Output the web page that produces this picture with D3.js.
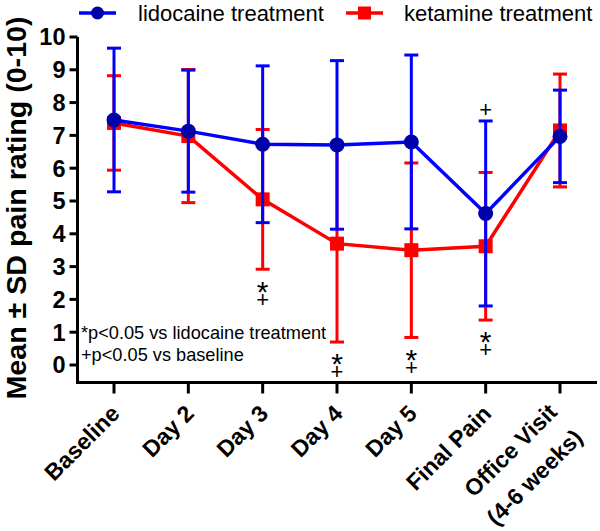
<!DOCTYPE html>
<html><head><meta charset="utf-8">
<script src="https://cdn.jsdelivr.net/npm/d3@7"></script>
<style>body{margin:0;background:#fff}svg{display:block}text{font-family:"Liberation Sans",Arial,sans-serif}</style>
</head><body><svg id="c" width="600" height="531"></svg>
<script>
const categories = ["Baseline","Day 2","Day 3","Day 4","Day 5","Final Pain","Office Visit|(4-6 weeks)"];
const lidoMean = [7.47, 7.13, 6.73, 6.71, 6.80, 4.62, 6.97];
const lidoSD   = [2.19, 1.86, 2.39, 2.57, 2.65, 2.82, 1.41];
const ketaMean = [7.38, 6.98, 5.05, 3.70, 3.50, 3.62, 7.15];
const ketaSD   = [1.44, 2.03, 2.13, 3.00, 2.66, 2.25, 1.72];
const yTicks = [0,1,2,3,4,5,6,7,8,9,10];
// significance marks: below ketamine bar ("*", "+") and above lidocaine bar ("+")
const belowMarks = [[], [], ["*","+"], ["*","+"], ["*","+"], ["*","+"], []];
const aboveMarks = [[], [], [], [], [], ["+"], []];
const footnotes = ["*p<0.05 vs lidocaine treatment", "+p<0.05 vs baseline"];
const seriesNames = ["lidocaine treatment", "ketamine treatment"];
const yTitle = "Mean \u00B1 SD pain rating (0-10)";

const BLUE = "#0000ff", BLUEDOT = "#0000a8", RED = "#ff0000";
const svg = d3.select("#c");
const x = d3.scalePoint().domain(categories).range([114, 560]);
const y = d3.scaleLinear().domain([0, 10]).range([365, 37]);
const axisY = 382.5, axisX = 77.5;

// axes
const ga = svg.append("g");
ga.append("path").attr("d", `M${axisX},${y(10)}V${axisY}H597`).attr("fill","none").attr("stroke","#000").attr("stroke-width",3);
ga.selectAll(".yt").data(yTicks).join("line").attr("x1",axisX-8).attr("x2",axisX).attr("y1",d=>y(d)).attr("y2",d=>y(d)).attr("stroke","#000").attr("stroke-width",3);
ga.selectAll(".ytl").data(yTicks).join("text").attr("x",axisX-12).attr("y",d=>y(d)).attr("dy","0.36em")
  .attr("text-anchor","end").attr("font-size",23.5).attr("font-weight","bold").text(d=>d);
ga.selectAll(".xt").data(categories).join("line").attr("x1",d=>x(d)).attr("x2",d=>x(d)).attr("y1",axisY).attr("y2",axisY+11).attr("stroke","#000").attr("stroke-width",3);
const xl = ga.selectAll(".xtl").data(categories).join("text")
  .attr("transform",d=>`translate(${x(d)+7},${415}) rotate(-45)`)
  .attr("text-anchor","end").attr("font-size",23).attr("font-weight","bold");
xl.each(function(d){
  const parts = d.split("|");
  const t = d3.select(this);
  if(parts.length===1){ t.append("tspan").attr("x",0).attr("dy",0).text(parts[0]); return; }
  parts.forEach((p,i)=>t.append("tspan").attr("x",-5).attr("dy", i===0 ? -7 : 36).text(p));
});
svg.append("text").attr("transform",`translate(26,208) rotate(-90)`).attr("text-anchor","middle")
  .attr("font-size",27).attr("font-weight","bold").attr("textLength",383).attr("lengthAdjust","spacingAndGlyphs").text(yTitle);

function drawSeries(mean, sd, color, dotColor, shape){
  const g = svg.append("g");
  const idx = d3.range(categories.length);
  g.selectAll("line.eb").data(idx).join("line").attr("x1",i=>x(categories[i])).attr("x2",i=>x(categories[i]))
    .attr("y1",i=>y(mean[i]+sd[i])).attr("y2",i=>y(mean[i]-sd[i])).attr("stroke",color).attr("stroke-width",3);
  [1,-1].forEach(s=>{
    g.selectAll("line.cap"+s).data(idx).join("line").attr("x1",i=>x(categories[i])-7).attr("x2",i=>x(categories[i])+7)
      .attr("y1",i=>y(mean[i]+s*sd[i])).attr("y2",i=>y(mean[i]+s*sd[i])).attr("stroke",color).attr("stroke-width",3);
  });
  g.append("path").datum(idx).attr("d", d3.line().x(i=>x(categories[i])).y(i=>y(mean[i])))
    .attr("fill","none").attr("stroke",color).attr("stroke-width",3.5);
  if(shape==="circle"){
    g.selectAll("circle").data(idx).join("circle").attr("cx",i=>x(categories[i])).attr("cy",i=>y(mean[i])).attr("r",7.5).attr("fill",dotColor);
  } else {
    g.selectAll("rect").data(idx).join("rect").attr("x",i=>x(categories[i])-7).attr("y",i=>y(mean[i])-7).attr("width",14).attr("height",14).attr("fill",dotColor);
  }
}
drawSeries(ketaMean, ketaSD, RED, RED, "square");
drawSeries(lidoMean, lidoSD, BLUE, BLUEDOT, "circle");

// significance marks (one text element per group, one tspan per symbol)
const gm = svg.append("g");
categories.forEach((c,i)=>{
  if(belowMarks[i].length){
    const top = y(ketaMean[i]-ketaSD[i]);
    const t = gm.append("text").attr("text-anchor","middle");
    belowMarks[i].forEach((m,k)=>{
      const center = top + 15 + k*14.5;
      const fs = m==="*" ? 30 : 22;
      const base = center + (m==="*" ? 0.58*fs : 0.36*fs);
      t.append("tspan").attr("x",x(c)).attr("y",base).attr("font-size",fs).text(m);
    });
  }
  aboveMarks[i].forEach((m)=>{
    const center = y(lidoMean[i]+lidoSD[i]) - 12;
    gm.append("text").attr("x",x(c)).attr("y",center+0.36*22).attr("font-size",22).attr("text-anchor","middle").text(m);
  });
});
svg.append("g").selectAll("text").data(footnotes).join("text").attr("x",81).attr("y",(d,i)=>339+i*22)
  .attr("font-size",18.2).text(d=>d);

// legend
const lg = svg.append("g");
const legX = [79, 346], legText = [138, 404];
[[BLUE,BLUEDOT,"circle"],[RED,RED,"square"]].forEach((s,i)=>{
  lg.append("line").attr("x1",legX[i]).attr("x2",legX[i]+37).attr("y1",13).attr("y2",13).attr("stroke",s[0]).attr("stroke-width",3.5);
  if(s[2]==="circle") lg.append("circle").attr("cx",legX[i]+18.5).attr("cy",13).attr("r",6.5).attr("fill",s[1]);
  else lg.append("rect").attr("x",legX[i]+12).attr("y",6.5).attr("width",13).attr("height",13).attr("fill",s[1]);
  lg.append("text").attr("x",legText[i]).attr("y",20.5).attr("font-size",22).text(seriesNames[i]);
});
</script></body></html>
